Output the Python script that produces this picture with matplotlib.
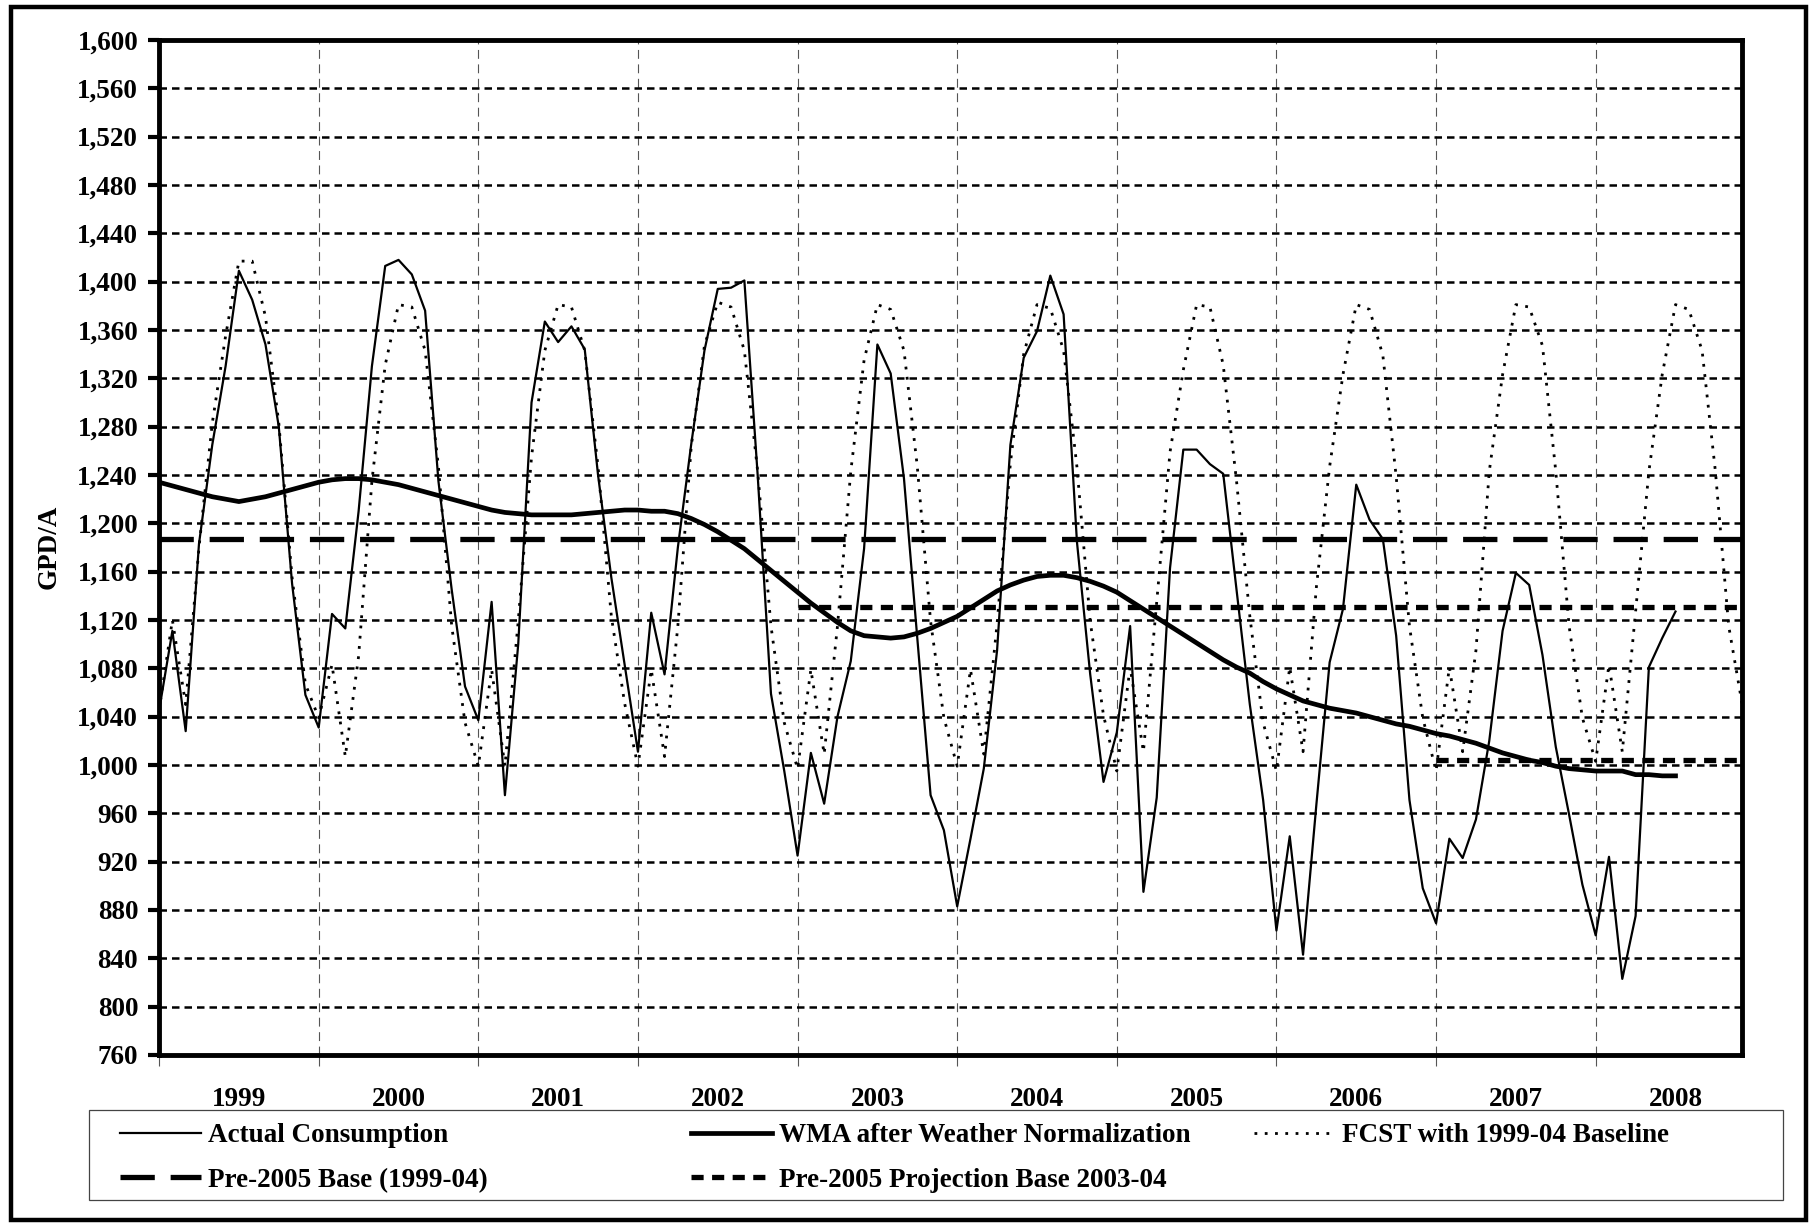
import numpy as np
import matplotlib.pyplot as plt
from matplotlib.patches import Rectangle
from matplotlib.ticker import FixedLocator, FuncFormatter

plt.rcParams['font.family'] = ['Liberation Serif', 'DejaVu Serif']
plt.rcParams['font.weight'] = 'bold'

years = ['1999', '2000', '2001', '2002', '2003', '2004', '2005', '2006', '2007', '2008']

# monthly values, Jan 1999 onwards
actual = [1045, 1111, 1028, 1183, 1265, 1330, 1409, 1385, 1348, 1280, 1150, 1058,
          1031, 1125, 1113, 1210, 1330, 1413, 1418, 1406, 1376, 1235, 1145, 1065,
          1037, 1135, 975, 1100, 1300, 1367, 1350, 1363, 1344, 1240, 1155, 1083,
          1011, 1126, 1075, 1180, 1265, 1343, 1394, 1395, 1401, 1240, 1059, 995,
          925, 1010, 968, 1040, 1086, 1179, 1348, 1324, 1237, 1105, 975, 946,
          883, 939, 997, 1095, 1265, 1337, 1359, 1405, 1373, 1185, 1075, 986,
          1027, 1115, 895, 973, 1163, 1261, 1261, 1249, 1241, 1145, 1050, 971,
          863, 941, 843, 967, 1085, 1129, 1232, 1203, 1187, 1107, 971, 898,
          869, 939, 923, 955, 1020, 1111, 1159, 1149, 1091, 1015, 959, 901,
          859, 924, 823, 875, 1081, 1105, 1127]

wma = [1234, 1231, 1228, 1225, 1222, 1220, 1218, 1220, 1222, 1225, 1228, 1231,
       1234, 1236, 1237, 1237, 1236, 1234, 1232, 1229, 1226, 1223, 1220, 1217,
       1214, 1211, 1209, 1208, 1207, 1207, 1207, 1207, 1208, 1209, 1210, 1211,
       1211, 1210, 1210, 1208, 1204, 1199, 1193, 1186, 1179, 1170, 1161, 1152,
       1143, 1134, 1126, 1118, 1111, 1107, 1106, 1105, 1106, 1109, 1113, 1118,
       1123, 1130, 1137, 1144, 1149, 1153, 1156, 1157, 1157, 1155, 1152, 1148,
       1143, 1136, 1129, 1122, 1115, 1108, 1101, 1094, 1087, 1081, 1076, 1069,
       1063, 1058, 1053, 1050, 1047, 1045, 1043, 1040, 1037, 1034, 1032, 1029,
       1026, 1024, 1021, 1018, 1014, 1010, 1007, 1004, 1002, 999, 997, 996,
       995, 995, 995, 992, 992, 991, 991]

fcst = [1045, 1120, 1050, 1180, 1283, 1355, 1417, 1417, 1371, 1283, 1155, 1067,
        1039, 1083, 1007, 1090, 1235, 1331, 1381, 1379, 1343, 1247, 1115, 1035,
        999, 1079, 999, 1119, 1255, 1343, 1381, 1379, 1343, 1247, 1123, 1051,
        999, 1079, 1007, 1115, 1263, 1347, 1383, 1379, 1343, 1243, 1115, 1035,
        997, 1079, 1009, 1115, 1243, 1335, 1381, 1377, 1343, 1247, 1119, 1039,
        999, 1079, 1009, 1117, 1250, 1340, 1381, 1378, 1343, 1247, 1119, 1041,
        995, 1081, 1011, 1135, 1259, 1327, 1381, 1379, 1331, 1235, 1123, 1035,
        995, 1081, 1011, 1147, 1247, 1323, 1381, 1377, 1339, 1239, 1115, 1039,
        995, 1081, 1011, 1095, 1243, 1323, 1381, 1379, 1347, 1243, 1115, 1039,
        1003, 1083, 1011, 1127, 1243, 1323, 1381, 1377, 1343, 1243, 1115, 1051]

base_months = [0, 119]
base_vals = [1187, 1187]
proj_months = [48, 119]
proj_vals = [1131, 1131]
proj2_months = [96, 119]
proj2_vals = [1004, 1004]

FS = 19.5

fig = plt.figure(figsize=(18.18, 12.27), dpi=100)
ax = fig.add_axes([0.0875, 0.1402, 0.8707, 0.8272])

ax.plot(np.arange(len(actual)), actual, color='black', lw=1.6, zorder=4)
ax.plot(np.arange(len(wma)), wma, color='black', lw=3.4, zorder=5)
ax.plot(np.arange(len(fcst)), fcst, color='black', lw=2.0, linestyle=(0, (1, 2.7)), zorder=3)
ax.plot(base_months, base_vals, color='black', lw=3.8, linestyle=(0, (6.5, 3)), zorder=3)
ax.plot(proj_months, proj_vals, color='black', lw=3.8, linestyle=(0, (2.3, 1.6)), zorder=3)
ax.plot(proj2_months, proj2_vals, color='black', lw=3.8, linestyle=(0, (2.3, 1.6)), zorder=3)

ax.set_xlim(0, 119)
ax.set_ylim(760, 1600)

# axes styling
for s in ax.spines.values():
    s.set_linewidth(3.5)
    s.set_color('black')

ax.yaxis.set_major_locator(FixedLocator(np.arange(760, 1601, 40)))
ax.yaxis.set_major_formatter(FuncFormatter(lambda v, p: f'{int(v):,}'))
ax.tick_params(axis='y', which='major', direction='out', length=8, width=3,
               labelsize=FS, pad=7)
ax.yaxis.grid(True, color='black', lw=1.8, linestyle=(0, (3, 2)))

ax.xaxis.set_major_locator(FixedLocator(np.arange(0, 119, 12)))
ax.xaxis.set_minor_locator(FixedLocator(np.arange(6, 120, 12)))
ax.xaxis.set_major_formatter(FuncFormatter(lambda v, p: ''))
ax.xaxis.set_minor_formatter(FuncFormatter(lambda v, p: years[int(v) // 12]))
ax.tick_params(axis='x', which='major', direction='out', length=8, width=0.8,
               color='#555555')
ax.tick_params(axis='x', which='minor', length=0, labelsize=FS, pad=23)
ax.xaxis.grid(True, which='major', color='#555555', lw=0.8, linestyle=(0, (8, 5)))
ax.set_axisbelow(True)

for lbl in ax.get_xticklabels(minor=True) + ax.get_yticklabels():
    lbl.set_fontweight('bold')

fig.text(0.027, 0.554, 'GPD/A', rotation=90, ha='center', va='center',
         fontsize=FS, fontweight='bold')

# legend box
fig.add_artist(Rectangle((0.049, 0.022), 0.932, 0.0733, transform=fig.transFigure,
                         fill=False, edgecolor='#444444', lw=0.9))
# outer frame
fig.add_artist(Rectangle((0.006, 0.0057), 0.9874, 0.9886, transform=fig.transFigure,
                         fill=False, edgecolor='black', lw=3.2))

h = ax.get_lines()
leg_kw = dict(frameon=False, loc='upper left', handlelength=3.0,
              handletextpad=0.25, labelspacing=0.72, borderpad=0, borderaxespad=0,
              bbox_transform=fig.transFigure, prop={'weight': 'bold', 'size': FS})
fig.legend([h[0], h[3]], ['Actual Consumption', 'Pre-2005 Base (1999-04)'],
           bbox_to_anchor=(0.066, 0.0845), **leg_kw)
fig.legend([h[1], h[4]], ['WMA after Weather Normalization', 'Pre-2005 Projection Base 2003-04'],
           bbox_to_anchor=(0.380, 0.0845), **leg_kw)
fig.legend([h[2]], ['FCST with 1999-04 Baseline'],
           bbox_to_anchor=(0.690, 0.0845), **leg_kw)

fig.savefig('out.png', dpi=100)
